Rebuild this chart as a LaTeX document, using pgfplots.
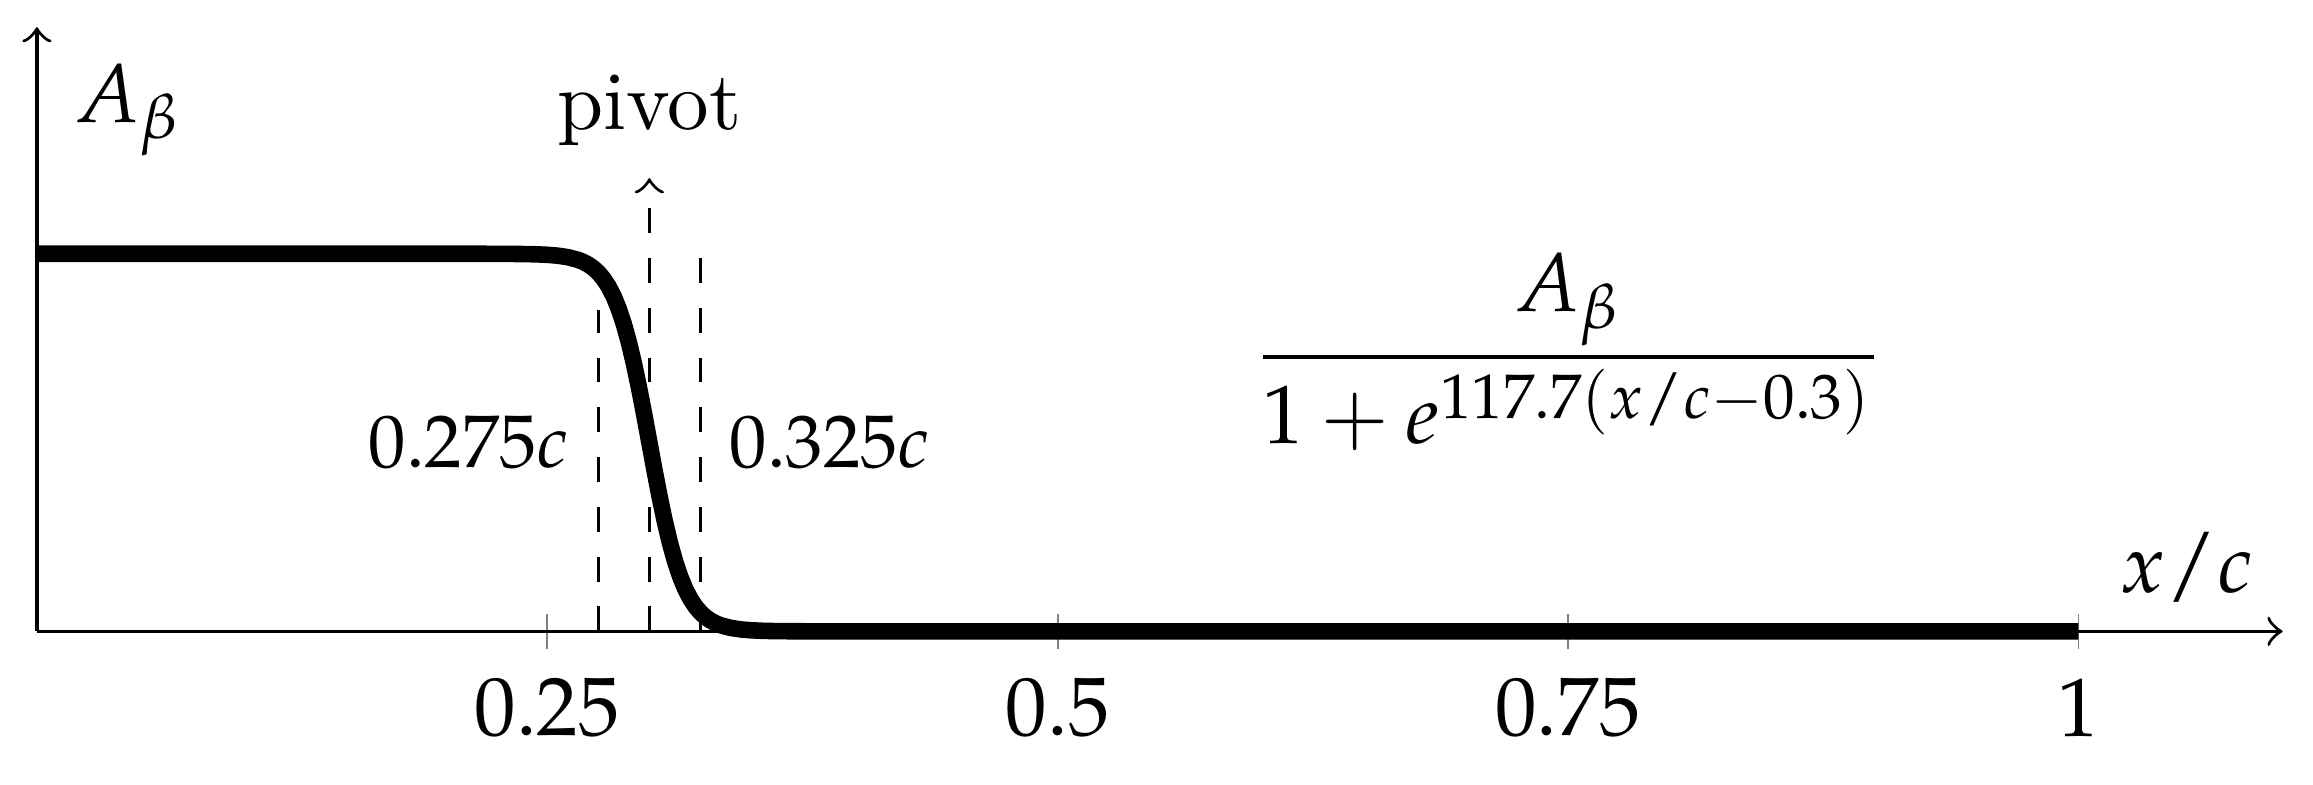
\documentclass[border=0pt]{standalone}
\usepackage{mathpazo}
\usepackage{pgfplots}
\pgfplotsset{compat=1.18}

\begin{document}
\begin{tikzpicture}
\begin{axis}[
  x=246pt, y=45.5pt,
  xmin=0, xmax=1.1, ymin=0, ymax=1.6,
  axis lines=middle,
  axis line style={line width=0.4pt, ->},
  xtick={0.25,0.5,0.75,1},
  ytick=\empty,
  tick align=center,
  tick style={gray},
  clip=false,
]
% sigmoid A/(1+exp(117.7(x-0.3))), A scaled to 1
\addplot[line width=2pt] coordinates {
  (0,1) (0.2,1) (0.22,0.99992) (0.23,0.99974) (0.24,0.99914) (0.245,0.99846)
  (0.25,0.99723) (0.255,0.99502) (0.26,0.99106) (0.265,0.98401) (0.2675,0.97866)
  (0.27,0.97156) (0.2725,0.96219) (0.275,0.94989) (0.2775,0.93389) (0.28,0.91322)
  (0.2825,0.88692) (0.285,0.85389) (0.2875,0.81325) (0.29,0.76441) (0.2925,0.70739)
  (0.295,0.64305) (0.2975,0.57304) (0.3,0.5) (0.3025,0.42696) (0.305,0.35695)
  (0.3075,0.29261) (0.31,0.23559) (0.3125,0.18675) (0.315,0.14611) (0.3175,0.11308)
  (0.32,0.08678) (0.3225,0.06611) (0.325,0.05011) (0.3275,0.03781) (0.33,0.02844)
  (0.3325,0.02134) (0.335,0.01599) (0.34,0.00894) (0.345,0.00498) (0.35,0.00277)
  (0.355,0.00154) (0.36,0.00086) (0.37,0.00026) (0.38,0.00008) (0.4,0.00001) (1,0)
};
% markers at 0.275c, pivot 0.3c and 0.325c
\addplot[dashed, line width=0.4pt] coordinates {(0.275,0) (0.275,0.85)};
\addplot[dashed, line width=0.4pt] coordinates {(0.325,0) (0.325,1)};
\addplot[dashed, line width=0.4pt, ->] coordinates {(0.3,0) (0.3,1.2)};

\node[anchor=east, font=\small] at (axis cs:0.275,0.5) {$0.275c$};
\node[anchor=west, font=\small] at (axis cs:0.325,0.5) {$0.325c$};
\node at (axis cs:0.3,1.38) {pivot};
\node[anchor=west] at (axis cs:0.004,1.38) {$A_\beta$};
\node at (axis cs:1.053,0.17) {$x/c$};
\node at (axis cs:0.75,0.74) {$\displaystyle\frac{A_\beta}{1+e^{117.7(x/c-0.3)}}$};

\path (axis cs:-0.0181,-0.406) rectangle (axis cs:1.1149,1.672);
\end{axis}
\end{tikzpicture}
\end{document}
